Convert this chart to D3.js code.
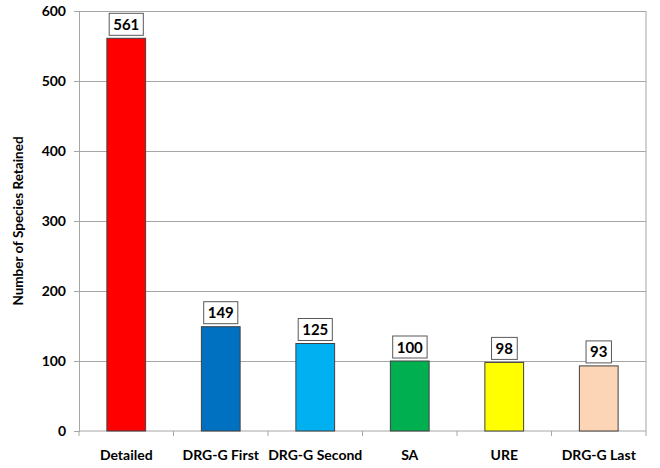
<!DOCTYPE html>
<html>
<head>
<meta charset="utf-8">
<script src="https://cdn.jsdelivr.net/npm/d3@7"></script>
<style>
  body { margin: 0; background: #fff; }
  svg text { font-family: Lato, "Open Sans", sans-serif; font-weight: bold; fill: #000; }
  .grid line { stroke: #a6a6a6; }
  .grid path { display: none; }
</style>
</head>
<body>
<svg class="chart" width="660" height="468"></svg>
<script>
const categories = ['Detailed', 'DRG-G First', 'DRG-G Second', 'SA', 'URE', 'DRG-G Last'];
const values = [561, 149, 125, 100, 98, 93];
const colors = ['#ff0000', '#0070c0', '#00b0f0', '#00b050', '#ffff00', '#fbd5b5'];
const yTicks = [0, 100, 200, 300, 400, 500, 600];

const data = categories.map((c, i) => ({name: c, value: values[i], color: colors[i]}));

const svg = d3.select('svg.chart');
const marginLeft = 79, marginRight = 646, marginTop = 11, marginBottom = 431;
const width = marginRight - marginLeft;
const height = marginBottom - marginTop;

const chart = svg.append('g').attr('transform', `translate(${marginLeft}, ${marginTop})`);

const yScale = d3.scaleLinear()
  .range([height, 0])
  .domain([0, 600]);

const xScale = d3.scaleBand()
  .range([0, width])
  .domain(categories)
  .paddingInner(0.59)
  .paddingOuter(0.295);

// horizontal grid lines
chart.append('g')
  .attr('class', 'grid')
  .call(d3.axisLeft(yScale).tickValues(yTicks.slice(1)).tickSize(-width).tickFormat(''));

// right frame
chart.append('line')
  .attr('x1', width).attr('x2', width)
  .attr('y1', 0).attr('y2', height)
  .attr('stroke', '#a6a6a6');

// y axis
const yAxis = chart.append('g')
  .call(d3.axisLeft(yScale).tickValues(yTicks).tickSize(5).tickPadding(8));
yAxis.select('.domain').attr('stroke', '#a6a6a6');
yAxis.selectAll('.tick line').attr('stroke', '#a6a6a6');
yAxis.selectAll('.tick text').style('font-size', '14px');

// x axis, ticks at band boundaries
const xAxis = chart.append('g')
  .attr('transform', `translate(0, ${height})`);
xAxis.append('line')
  .attr('x1', 0).attr('x2', width)
  .attr('stroke', '#a6a6a6');
const step = xScale.step();
xAxis.selectAll('.xtick')
  .data(d3.range(categories.length + 1))
  .enter()
  .append('line')
  .attr('x1', (i) => i * step).attr('x2', (i) => i * step)
  .attr('y1', 0).attr('y2', 5)
  .attr('stroke', '#a6a6a6');
xAxis.selectAll('.xlabel')
  .data(categories)
  .enter()
  .append('text')
  .attr('x', (d) => xScale(d) + xScale.bandwidth() / 2)
  .attr('y', 29)
  .attr('text-anchor', 'middle')
  .style('font-size', '14px')
  .text((d) => d);

// y axis title
svg.append('text')
  .attr('transform', `translate(23, ${marginTop + height / 2}) rotate(-90)`)
  .attr('text-anchor', 'middle')
  .style('font-size', '13.5px')
  .text('Number of Species Retained');

// bars
const barGroup = chart.selectAll('.bar-group')
  .data(data)
  .enter()
  .append('g')
  .attr('class', 'bar-group');

barGroup.append('rect')
  .attr('x', (d) => xScale(d.name))
  .attr('y', (d) => yScale(d.value))
  .attr('width', xScale.bandwidth())
  .attr('height', (d) => height - yScale(d.value))
  .attr('fill', (d) => d.color)
  .attr('stroke', '#404040')
  .attr('stroke-width', 1);

// value labels in boxes
barGroup.each(function (d) {
  const g = d3.select(this);
  const cx = xScale(d.name) + xScale.bandwidth() / 2;
  const t = g.append('text')
    .attr('x', cx)
    .attr('y', yScale(d.value) - 8.5)
    .attr('text-anchor', 'middle')
    .style('font-size', '15px')
    .text(d.value);
  const bb = t.node().getBBox();
  g.insert('rect', 'text')
    .attr('x', bb.x - 4)
    .attr('y', yScale(d.value) - 25)
    .attr('width', bb.width + 8)
    .attr('height', 22)
    .attr('fill', '#fff')
    .attr('stroke', '#595959');
});
</script>
</body>
</html>
